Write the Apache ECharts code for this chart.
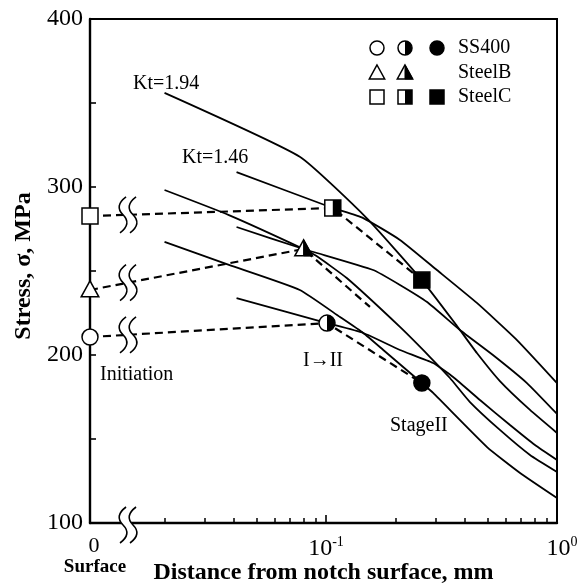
<!DOCTYPE html>
<html><head><meta charset="utf-8">
<script src="https://cdn.jsdelivr.net/npm/echarts@6/dist/echarts.min.js"></script>
<style>html,body{margin:0;padding:0;background:#fff}#c{width:578px;height:585px}</style>
</head><body><div id="c"></div>
<script>
// distance from notch surface (mm) , stress (MPa); distance 0 = notch surface
const kt194_SteelC = [[0.020,356],[0.077,318],[0.150,281.5],[0.260,244.6],[0.369,217.3],[0.450,201.2],[0.566,184.5],[0.764,167.3],[1.0,153.6]];
const kt146_SteelC = [[0.041,308.9],[0.107,287.5],[0.145,281.5],[0.209,268.5],[0.302,250.6],[0.450,231.0],[0.671,208.9],[1.0,183.3]];
const kt194_SteelB = [[0.020,298.2],[0.038,283.3],[0.080,263.1],[0.091,258.9],[0.123,245.8],[0.209,216.7],[0.282,198.8],[0.344,186.3],[0.420,172.0],[0.566,155.4],[0.764,140.5],[1.0,130.4]];
const kt146_SteelB = [[0.041,276.2],[0.080,263.1],[0.160,250.6],[0.209,241.7],[0.274,231.5],[0.380,214.9],[0.528,200.0],[0.741,183.3],[1.0,164.9]];
const kt194_SS400 = [[0.020,267.3],[0.038,253.6],[0.077,238.7],[0.115,222.6],[0.145,213.1],[0.177,203.0],[0.260,183.3],[0.291,177.4],[0.498,145.2],[0.692,129.8],[1.0,114.9]];
const kt146_SS400 = [[0.041,233.9],[0.101,219.0],[0.145,213.1],[0.209,203.0],[0.291,195.2],[0.355,186.9],[0.464,173.2],[0.626,158.3],[0.803,146.4],[1.0,137.5]];

// crack stages: initiation (surface), I->II transition, stage II
const stages_SS400 = [[0,210.7],[0.101,219.0],[0.260,183.3]];
const stages_SteelB = [[0,238.7],[0.080,263.1],[0.155,228.6]];
const stages_SteelC = [[0,282.7],[0.107,287.5],[0.260,244.6]];
const stageFills_SS400 = ['open','half','filled'];
const stageFills_SteelB = ['open','half',null];
const stageFills_SteelC = ['open','half','filled'];

const materials = ['SS400','SteelB','SteelC'];
const materialShapes = ['circle','triangle','square'];
const ktLabels = ['Kt=1.94','Kt=1.46'];

const xMajorTicks = [0.1, 1];
const xMinorTicks = [0.02,0.03,0.04,0.05,0.06,0.07,0.08,0.09,0.2,0.3,0.4,0.5,0.6,0.7,0.8,0.9];
const yTicks = [100,150,200,250,300,350,400];
const yLabels = [100,200,300,400];
const breakDistance = 0.0139;

const X_MIN = -2.0216;
const lx = d => d === 0 ? X_MIN : Math.log10(d);
const toXY = arr => arr.map(p => [lx(p[0]), p[1]]);
const SERIF = 'Liberation Serif';

function markerShapes(shape, fill, cx, cy, r) {
  const base = {fill: fill === 'filled' ? '#000' : '#fff', stroke: '#000', lineWidth: 1.5};
  const out = [];
  if (shape === 'circle') {
    out.push({type:'circle', shape:{cx, cy, r}, style: base});
    if (fill === 'half') out.push({type:'sector', shape:{cx, cy, r0:0, r, startAngle:-Math.PI/2, endAngle:Math.PI/2, clockwise:true}, style:{fill:'#000'}});
  } else if (shape === 'square') {
    out.push({type:'rect', shape:{x:cx-r, y:cy-r, width:2*r, height:2*r}, style: base});
    if (fill === 'half') out.push({type:'rect', shape:{x:cx, y:cy-r, width:r, height:2*r}, style:{fill:'#000'}});
  } else {
    const t = cy - r*1.15, b = cy + r*0.85, w = r*1.1;
    out.push({type:'polygon', shape:{points:[[cx,t],[cx-w,b],[cx+w,b]]}, style: base});
    if (fill === 'half') out.push({type:'polygon', shape:{points:[[cx,t],[cx,b],[cx+w,b]]}, style:{fill:'#000', stroke:'#000', lineWidth:1}});
  }
  return out;
}

const curves = [kt194_SteelC, kt146_SteelC, kt194_SteelB, kt146_SteelB, kt194_SS400, kt146_SS400];
const stageSets = [stages_SS400, stages_SteelB, stages_SteelC];
const fillSets = [stageFills_SS400, stageFills_SteelB, stageFills_SteelC];

// marker data: [x, stress, shapeIndex, fillIndex]
const fillNames = ['open','half','filled'];
const markerData = [];
stageSets.forEach((st, m) => st.forEach((p, i) => {
  const f = fillSets[m][i];
  if (f) markerData.push([lx(p[0]), p[1], m, fillNames.indexOf(f)]);
}));

// axis break positions on the dashed lines and on the x axis
const xb = lx(breakDistance);
const breakData = stageSets.map(st => {
  const x0 = lx(st[0][0]), x1 = lx(st[1][0]);
  const t = (xb - x0) / (x1 - x0);
  return [xb, st[0][1] + t * (st[1][1] - st[0][1]), 0];
});
breakData.push([xb, 100, 2]);

const series = [];
curves.forEach(c => series.push({type:'line', data: toXY(c), symbol:'none', smooth:0.15, z:2,
  lineStyle:{color:'#000', width:1.8}, xAxisIndex:0, yAxisIndex:0, silent:true}));
stageSets.forEach(st => series.push({type:'line', data: toXY(st), symbol:'none', z:3,
  lineStyle:{color:'#000', width:2.2, type:[8,5]}, silent:true}));
series.push({type:'custom', z:4, data: breakData, silent:true,
  renderItem(params, api) {
    const c = api.coord([api.value(0), api.value(1)]);
    const cx = c[0], cy = c[1] + api.value(2), h = 18;
    const curve = x => `M${x+3},${cy-h} Q${x-9},${cy-h/2} ${x},${cy} Q${x+9},${cy+h/2} ${x-3},${cy+h}`;
    const l = cx - 5, r = cx + 5;
    const fillPath = `M${l+3},${cy-h} Q${l-9},${cy-h/2} ${l},${cy} Q${l+9},${cy+h/2} ${l-3},${cy+h} L${r-3},${cy+h} Q${r+9},${cy+h/2} ${r},${cy} Q${r-9},${cy-h/2} ${r+3},${cy-h} Z`;
    return {type:'group', children:[
      {type:'path', shape:{pathData: fillPath}, style:{fill:'#fff', stroke:null}},
      {type:'path', shape:{pathData: curve(l)}, style:{fill:null, stroke:'#000', lineWidth:1.6}},
      {type:'path', shape:{pathData: curve(r)}, style:{fill:null, stroke:'#000', lineWidth:1.6}}
    ]};
  }});
series.push({type:'custom', z:5, data: markerData, silent:true,
  renderItem(params, api) {
    const c = api.coord([api.value(0), api.value(1)]);
    return {type:'group', children: markerShapes(materialShapes[api.value(2)], fillNames[api.value(3)], c[0], c[1], 8)};
  }});

// legend (graphic)
const legendChildren = [];
const colX = [377, 405, 437], rowY = [48, 73, 97];
materials.forEach((m, i) => {
  fillSets[i].forEach((f, j) => { if (f) legendChildren.push(...markerShapes(materialShapes[i], f, colX[j], rowY[i], 7)); });
  legendChildren.push({type:'text', x:458, y:rowY[i], style:{text:m, fontSize:20, fontFamily:SERIF, fill:'#000', verticalAlign:'middle', align:'left'}});
});
const annot = (text, x, y) => ({type:'text', x, y, style:{text, fontSize:20, fontFamily:SERIF, fill:'#000', verticalAlign:'middle', align:'left'}});

const chart = echarts.init(document.getElementById('c'), null, {renderer:'canvas'});
chart.setOption({
  animation:false,
  backgroundColor:'#fff',
  grid:{left:90, right:21, top:19, bottom:62, show:true, borderColor:'#000', borderWidth:2, backgroundColor:'transparent',
    containLabel:false, outerBoundsMode:'none'},
  xAxis:[{
    type:'value', min:X_MIN, max:0, position:'bottom',
    axisLine:{show:true, onZero:false, lineStyle:{color:'#000', width:2.4}},
    axisTick:{show:true, inside:true, length:8, lineStyle:{color:'#000', width:1.6}, customValues: xMajorTicks.map(lx)},
    axisLabel:{show:true, margin:12, customValues:[X_MIN, -1, 0], showMinLabel:true, showMaxLabel:true,
      formatter: v => v < -1.5 ? '{z|0}\n{s|Surface}' : (v < -0.5 ? '{n|10}{sup|-1}' : '{p|}{n|10}{sup|0}'),
      rich:{
        z:{fontSize:22, fontFamily:SERIF, color:'#000', padding:[0,0,0,8], lineHeight:22},
        s:{fontSize:19, fontFamily:SERIF, fontWeight:'bold', color:'#000', padding:[0,0,0,10], lineHeight:20},
        n:{fontSize:24, fontFamily:SERIF, color:'#000', lineHeight:28},
        p:{width:10, lineHeight:28},
        sup:{fontSize:14, fontFamily:SERIF, color:'#000', verticalAlign:'top', lineHeight:28, padding:[0,0,12,0]}
      }},
    splitLine:{show:false},
    name:'Distance from notch surface, mm', nameLocation:'middle', nameGap:38, nameMoveOverlap:false,
    nameTextStyle:{fontSize:24, fontWeight:'bold', fontFamily:SERIF, color:'#000'}
  },{
    type:'value', min:X_MIN, max:0, position:'bottom',
    axisLine:{show:false, onZero:false},
    axisTick:{show:true, inside:true, length:5, lineStyle:{color:'#000', width:1.5}, customValues: xMinorTicks.map(lx)},
    axisLabel:{show:false}, splitLine:{show:false}
  }],
  yAxis:{
    type:'value', min:100, max:400, interval:50, position:'left',
    axisLine:{show:true, onZero:false, lineStyle:{color:'#000', width:2.4}},
    axisTick:{show:true, inside:true, length:6, lineStyle:{color:'#000', width:1.6}, customValues: yTicks},
    axisLabel:{margin:7, fontSize:24, fontFamily:SERIF, color:'#000', customValues: yLabels},
    splitLine:{show:false},
    name:'Stress, σ, MPa', nameLocation:'middle', nameGap:54, nameMoveOverlap:false,
    nameTextStyle:{fontSize:24, fontWeight:'bold', fontFamily:SERIF, color:'#000', padding:[0,0,0,10]}
  },
  graphic:[
    {type:'group', children: legendChildren},
    annot(ktLabels[0], 133, 84),
    annot(ktLabels[1], 182, 158),
    annot('Initiation', 100, 375),
    annot('I→II', 303, 361),
    annot('StageII', 390, 426)
  ],
  series
});
</script></body></html>
